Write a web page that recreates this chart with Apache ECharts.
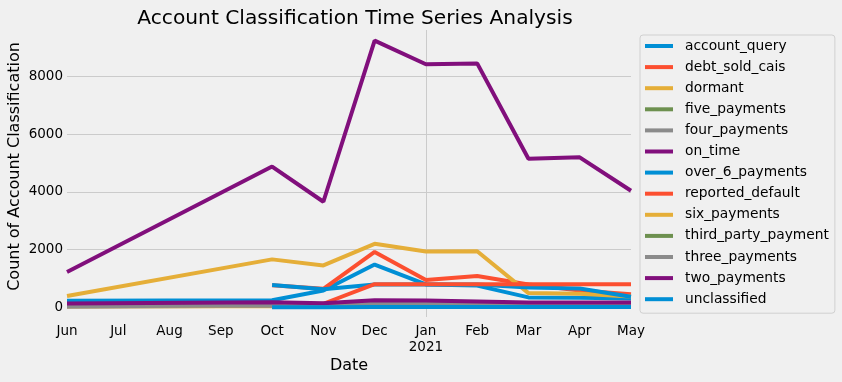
<!DOCTYPE html>
<html>
<head>
<meta charset="utf-8">
<script src="https://cdn.jsdelivr.net/npm/echarts@6/dist/echarts.min.js"></script>
<style>
html,body{margin:0;padding:0;background:#f0f0f0;}
#c{width:842px;height:382px;}
</style>
</head>
<body>
<div id="c"></div>
<script>
const months = ['Jun','Jul','Aug','Sep','Oct','Nov','Dec','Jan','Feb','Mar','Apr','May'];
const yearLabel = '2021';
const seriesNames = ['account_query','debt_sold_cais','dormant','five_payments','four_payments','on_time','over_6_payments','reported_default','six_payments','third_party_payment','three_payments','two_payments','unclassified'];

const account_query       = [220, null, null, null, 240, 580, 1480, 790, 750, 340, 330, 300];
const debt_sold_cais      = [null, null, null, null, 760, 640, 1920, 940, 1080, 790, 580, 450];
const dormant             = [390, null, null, null, 1660, 1450, 2200, 1930, 1940, 490, 470, 370];
const five_payments       = [null, null, null, null, 20, 30, 80, 80, 70, 40, 40, 30];
const four_payments       = [20, null, null, null, 50, 40, 90, 90, 80, 50, 50, 40];
const on_time             = [1220, null, null, null, 4880, 3660, 9250, 8430, 8460, 5150, 5200, 4040];
const over_6_payments     = [null, null, null, null, 770, 620, 790, 790, 790, 680, 650, 360];
const reported_default    = [null, null, null, null, 20, 120, 800, 800, 800, 800, 800, 800];
const six_payments        = [30, null, null, null, 30, 30, 60, 60, 60, 40, 40, 40];
const third_party_payment = [null, null, null, null, 10, 10, 20, 20, 20, 10, 10, 10];
const three_payments      = [30, null, null, null, 60, 50, 120, 120, 100, 60, 60, 50];
const two_payments        = [130, null, null, null, 170, 140, 240, 230, 200, 160, 160, 160];
const unclassified        = [null, null, null, null, 0, 0, 10, 10, 10, 10, 10, 10];

const seriesData = [account_query, debt_sold_cais, dormant, five_payments, four_payments, on_time, over_6_payments, reported_default, six_payments, third_party_payment, three_payments, two_payments, unclassified];
const palette = ['#008fd5','#fc4f30','#e5ae38','#6d904f','#8b8b8b','#810f7c'];

const chart = echarts.init(document.getElementById('c'), null, {renderer:'canvas'});
const font = 'DejaVu Sans';
chart.setOption({
  backgroundColor: '#f0f0f0',
  animation: false,
  color: palette,
  title: {
    text: 'Account Classification Time Series Analysis',
    left: 350, top: 4, textAlign: 'center',
    textStyle: {fontFamily: font, fontSize: 20.2, fontWeight: 'normal', color: '#000'}
  },
  grid: {left: 67, right: 211, top: 30, bottom: 65, containLabel: false, outerBoundsMode: 'none'},
  legend: {
    orient: 'vertical', left: 640, top: 35,
    padding: [3, 6, 6, 5],
    itemWidth: 28, itemHeight: 4, itemGap: 5.1,
    icon: 'rect',
    borderColor: '#d0d0d0', borderWidth: 1, borderRadius: 3,
    backgroundColor: '#f0f0f0',
    textStyle: {fontFamily: font, fontSize: 13.8, color: '#000', lineHeight: 16, padding: [0,0,0,7]},
    data: seriesNames
  },
  xAxis: {
    type: 'category', data: months, boundaryGap: false,
    name: 'Date', nameLocation: 'middle', nameGap: 41, nameMoveOverlap: false,
    nameTextStyle: {fontFamily: font, fontSize: 16, color: '#000'},
    axisLine: {show: false}, axisTick: {show: false},
    axisLabel: {
      margin: 6, interval: 0,
      fontFamily: font, fontSize: 13.5, color: '#000', lineHeight: 16,
      formatter: function (v) { return v === 'Jan' ? v + '\n' + yearLabel : v; }
    },
    splitLine: {show: true, interval: function (i) { return i === 7; }, lineStyle: {color: '#cbcbcb', width: 1}}
  },
  yAxis: {
    type: 'value', min: -340, max: 9620, splitNumber: 5,
    name: 'Count of Account Classification', nameLocation: 'middle', nameGap: 44, nameMoveOverlap: false,
    nameTextStyle: {fontFamily: font, fontSize: 16, color: '#000', padding: [0, 0, 0, 14]},
    axisLine: {show: false}, axisTick: {show: false},
    axisLabel: {showMinLabel: false, showMaxLabel: false, margin: 4,
      fontFamily: font, fontSize: 13.5, color: '#000',
      formatter: function (v) { return String(v); }},
    splitLine: {show: true, showMinLine: false, showMaxLine: false, lineStyle: {color: '#cbcbcb', width: 1}}
  },
  series: seriesNames.map(function (n, i) {
    return {
      name: n, type: 'line', data: seriesData[i],
      showSymbol: false, connectNulls: true,
      lineStyle: {width: 4, color: palette[i % 6]},
      itemStyle: {color: palette[i % 6]},
      emphasis: {disabled: true}
    };
  })
});
</script>
</body>
</html>
